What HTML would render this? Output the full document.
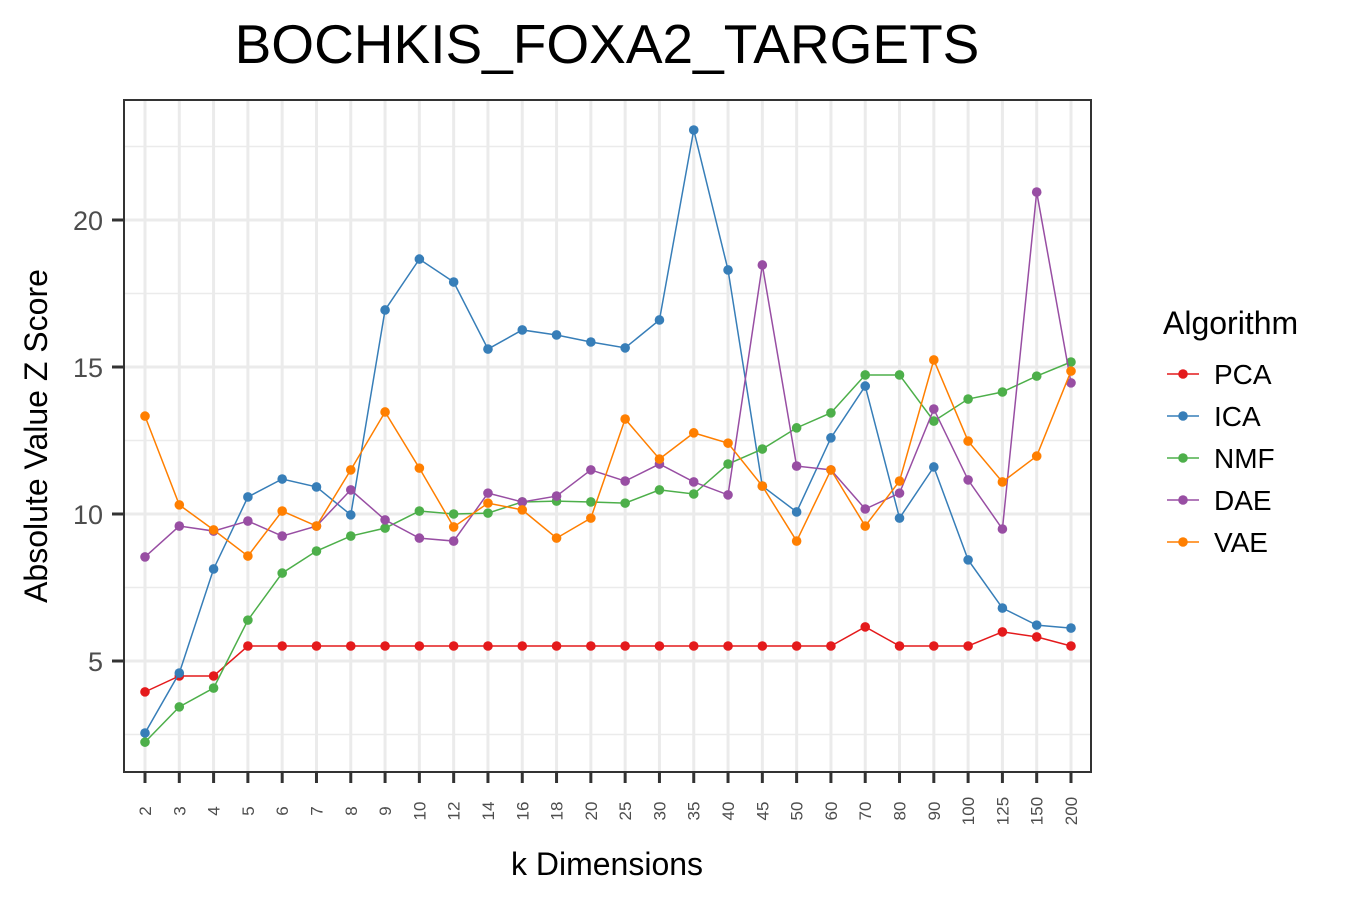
<!DOCTYPE html>
<html><head><meta charset="utf-8"><style>
body{margin:0;background:#fff;}
svg text{font-family:"Liberation Sans",Arial,sans-serif;}
</style></head><body>
<svg id="chart" width="1350" height="900" xmlns="http://www.w3.org/2000/svg">
<rect width="1350" height="900" fill="#fff"/>
<text x="607" y="63" font-size="55" text-anchor="middle" fill="#000">BOCHKIS_FOXA2_TARGETS</text>
<g id="grid"></g><g id="series"></g>
<rect x="124" y="100" width="967" height="672" fill="none" stroke="#333" stroke-width="2"/>
<g id="axes"></g>
<text x="607" y="875" font-size="32" text-anchor="middle">k Dimensions</text>
<text transform="translate(47,436) rotate(-90)" font-size="32" text-anchor="middle">Absolute Value Z Score</text>
<g id="legend"></g>
</svg>
<script>
const categories=["2","3","4","5","6","7","8","9","10","12","14","16","18","20","25","30","35","40","45","50","60","70","80","90","100","125","150","200"];
const pca=[3.95,4.49,4.49,5.51,5.51,5.51,5.51,5.51,5.51,5.51,5.51,5.51,5.51,5.51,5.51,5.51,5.51,5.51,5.51,5.51,5.51,6.16,5.51,5.51,5.51,5.99,5.82,5.51];
const ica=[2.55,4.59,8.13,10.58,11.19,10.92,9.97,16.94,18.67,17.89,15.61,16.26,16.09,15.85,15.65,16.6,23.06,18.3,10.95,10.07,12.59,14.35,9.86,11.6,8.44,6.8,6.22,6.12];
const nmf=[2.24,3.44,4.08,6.39,7.99,8.74,9.25,9.52,10.1,10.0,10.03,10.41,10.44,10.41,10.37,10.82,10.68,11.7,12.21,12.93,13.44,14.73,14.73,13.16,13.91,14.15,14.69,15.17];
const dae=[8.54,9.59,9.42,9.76,9.25,9.59,10.82,9.8,9.18,9.08,10.71,10.41,10.61,11.5,11.12,11.7,11.09,10.65,18.47,11.63,11.5,10.17,10.71,13.57,11.16,9.49,20.95,14.46];
const vae=[13.33,10.31,9.46,8.57,10.1,9.59,11.5,13.47,11.56,9.56,10.37,10.14,9.18,9.86,13.23,11.87,12.76,12.41,10.95,9.08,11.5,9.59,11.12,15.24,12.48,11.09,11.97,14.86];
const seriesNames=["PCA","ICA","NMF","DAE","VAE"];
const yTicks=[5,10,15,20];
const yMinor=[2.5,7.5,12.5,17.5,22.5];
const colors=["#E41A1C","#377EB8","#4DAF4A","#984EA3","#FF7F00"];
const allSeries=[pca,ica,nmf,dae,vae];
const NS="http://www.w3.org/2000/svg";
const x=i=>145+i*(1071-145)/(categories.length-1);
const y=v=>661-(v-5)*29.4;
function mk(tag,attrs,parent){const e=document.createElementNS(NS,tag);for(const k in attrs)e.setAttribute(k,attrs[k]);parent.appendChild(e);return e;}
const grid=document.getElementById('grid'),axes=document.getElementById('axes'),ser=document.getElementById('series'),leg=document.getElementById('legend');
yMinor.forEach(v=>{const l=mk('line',{x1:124,x2:1091,y1:y(v),y2:y(v),stroke:'#ebebeb','stroke-width':1.5},grid);

});
yTicks.forEach(v=>{const l=mk('line',{x1:124,x2:1091,y1:y(v),y2:y(v),stroke:'#ebebeb','stroke-width':3},grid);


const t=mk('line',{x1:112,x2:124,y1:y(v),y2:y(v),stroke:'#333','stroke-width':3},axes);


const tx=mk('text',{x:103,y:y(v)+10,'font-size':27,'text-anchor':'end',fill:'#4d4d4d'},axes);tx.textContent=v;

});
categories.forEach((c,i)=>{const l=mk('line',{x1:x(i),x2:x(i),y1:100,y2:772,stroke:'#ebebeb','stroke-width':3},grid);


const t=mk('line',{x1:x(i),x2:x(i),y1:772,y2:783,stroke:'#333','stroke-width':3},axes);


const tx=mk('text',{transform:`translate(${x(i)+6},811) rotate(-90)`,'font-size':17,'text-anchor':'middle',fill:'#4d4d4d'},axes);tx.textContent=c;

});
allSeries.forEach((d,s)=>{const g=mk('g',{},ser);


const p=mk('polyline',{points:d.map((v,i)=>x(i)+','+y(v)).join(' '),fill:'none',stroke:colors[s],'stroke-width':1.5},g);


d.forEach((v,i)=>{const c=mk('circle',{cx:x(i),cy:y(v),r:4.8,fill:colors[s]},g);

});
const ly=374+s*42;
const e=mk('g',{},leg);


mk('line',{x1:1167,x2:1199,y1:ly,y2:ly,stroke:colors[s],'stroke-width':1.5},e);
mk('circle',{cx:1183,cy:ly,r:4.8,fill:colors[s]},e);
const t=mk('text',{x:1214,y:ly+10,'font-size':28},e);t.textContent=seriesNames[s];});
const lt=mk('text',{x:1163,y:334,'font-size':32},leg);lt.textContent='Algorithm';


</script>
</body></html>
